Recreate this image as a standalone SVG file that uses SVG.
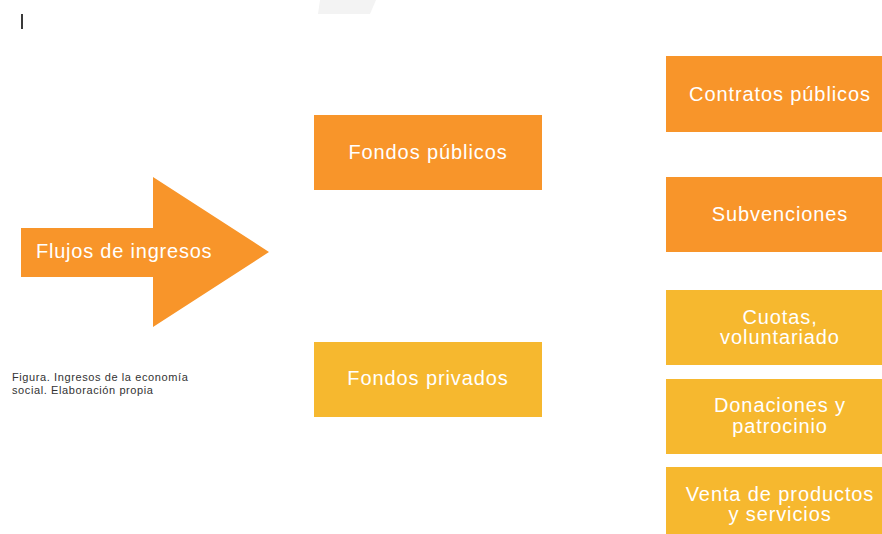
<svg xmlns="http://www.w3.org/2000/svg" width="882" height="534" viewBox="0 0 882 534">
<style>
.pub{fill:#F8952A}
.priv{fill:#F6B82F}
.lbl{font-family:"Liberation Sans",Arial,sans-serif;font-size:20px;fill:#FFFFFF;text-anchor:middle;letter-spacing:0.9px}
.cap{font-family:"Liberation Sans",Arial,sans-serif;font-size:11px;fill:#333333;letter-spacing:0.6px}
</style>
<rect width="882" height="534" fill="#FFFFFF"/>
<polygon points="318,14 320,0 376,0 370,14" fill="#F3F3F3"/>
<rect x="21" y="14" width="2" height="15" fill="#3a3a3a"/>
<g id="connectors"></g>
<g id="flujos">
<polygon class="pub" points="21,228 153,228 153,177 269,252 153,327 153,277 21,277"/>
<text x="36" y="258" font-family="Liberation Sans, Arial, sans-serif" font-size="20" fill="#FFFFFF" letter-spacing="0.78">Flujos de ingresos</text>
</g>
<g id="caption">
<text class="cap" x="12" y="381">Figura. Ingresos de la economía</text>
<text class="cap" x="12" y="393.5">social. Elaboración propia</text>
</g>
<g id="fondos-publicos">
<rect class="pub" x="314" y="115" width="228" height="75"/>
<text class="lbl" x="428" y="158.5">Fondos públicos</text>
</g>
<g id="fondos-privados">
<rect class="priv" x="314" y="342" width="228" height="75"/>
<text class="lbl" x="428" y="384.5">Fondos privados</text>
</g>
<g id="contratos">
<rect class="pub" x="666" y="56" width="228" height="76"/>
<text class="lbl" x="780" y="100.5">Contratos públicos</text>
</g>
<g id="subvenciones">
<rect class="pub" x="666" y="177" width="228" height="75"/>
<text class="lbl" x="780" y="220.5">Subvenciones</text>
</g>
<g id="cuotas">
<rect class="priv" x="666" y="290" width="228" height="75"/>
<text class="lbl" x="780" y="323.5">Cuotas,</text>
<text class="lbl" x="780" y="344">voluntariado</text>
</g>
<g id="donaciones">
<rect class="priv" x="666" y="379" width="228" height="75"/>
<text class="lbl" x="780" y="412">Donaciones y</text>
<text class="lbl" x="780" y="433">patrocinio</text>
</g>
<g id="venta">
<rect class="priv" x="666" y="467" width="228" height="75"/>
<text class="lbl" x="780" y="500.5">Venta de productos</text>
<text class="lbl" x="780" y="521">y servicios</text>
</g>
</svg>
